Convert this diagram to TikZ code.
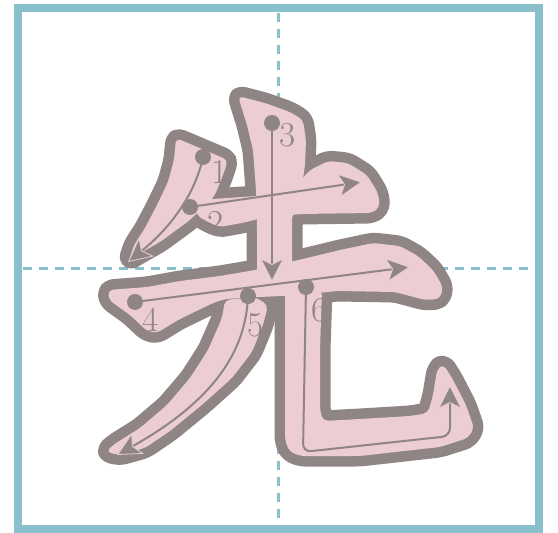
\documentclass[tikz,border=0pt]{standalone}
\usepackage{fontspec}
\usetikzlibrary{arrows.meta}
\definecolor{frameblue}{HTML}{89C0CC}
\definecolor{strokegray}{HTML}{8E8584}
\definecolor{glyphpink}{HTML}{ECCDD2}
\begin{document}
\begin{tikzpicture}[x=1pt,y=-1pt,
  frame/.style={draw=frameblue, line width=8pt},
  guide/.style={draw=frameblue, line width=3pt, dash pattern=on 9pt off 7pt},
  outl/.style={draw=strokegray, line width=21pt, line join=round, rounded corners=5pt},
  glyphfill/.style={fill=glyphpink, rounded corners=5pt},
  median/.style={draw=strokegray, line width=2pt,
    -{Stealth[length=24pt,width=24pt,inset=6pt,fill=strokegray,color=glyphpink,line width=0.8pt]}},
  dot/.style={circle, fill=strokegray, minimum size=16pt, inner sep=0pt},
  lab/.style={text=strokegray, font=\fontsize{35}{35}\selectfont, inner sep=0pt}]
\useasboundingbox (0,0) rectangle (558,533);
\fill[white] (0,0) rectangle (558,533);
% guides and frame
\draw[guide] (278.5,13) -- (278.5,525);
\draw[guide] (23,268) -- (535,268);
\draw[frame] (18,8) rectangle (539,529);
% glyph strokes
\def\glyphA{(176,138) -- (228,160) -- (222,178) -- (214,197) -- (205,205) -- (190,220) -- (160,242) -- (137,255) -- (129,260) -- (134,245) -- (145,228) -- (157,205) -- (168,182) -- (174,160) -- cycle}
\def\glyphB{(198,200) -- (257,196) -- (290,192) -- (310,170) -- (328,161) -- (348,163) -- (367,175) -- (378,193) -- (380,207) -- (372,213) -- (300,214) -- (257,219) -- (247,222) -- (220,227) -- (208,222) -- (196,215) -- cycle}
\def\glyphC{(238,96) -- (265,103) -- (290,112) -- (303,120) -- (306,140) -- (305,165) -- (300,200) -- (292,216) -- (292,275) -- (257,278) -- (257,225) -- (256,190) -- (253,150) -- (247,125) -- cycle}
\def\glyphD{(108,290) -- (147,287) -- (180,281) -- (220,276) -- (255,270) -- (307,258) -- (340,250) -- (373,243) -- (400,246) -- (418,256) -- (433,270) -- (443,287) -- (440,299) -- (425,300) -- (395,292) -- (337,291) -- (300,295) -- (260,297) -- (225,299) -- (213,303) -- (178,320) -- (157,333) -- (147,331) -- (130,315) -- (109,300) -- cycle}
\def\glyphE{(225,300) -- (222,318) -- (208,350) -- (190,378) -- (167,405) -- (140,428) -- (113,445) -- (106,452) -- (120,455) -- (145,448) -- (170,431) -- (203,404) -- (232,378) -- (252,352) -- (263,325) -- (268,305) -- (255,297) -- cycle}
\def\glyphF{(285,290) -- (285,440) -- (289,451) -- (300,456) -- (360,456) -- (440,447) -- (468,438) -- (474,428) -- (466,405) -- (452,378) -- (443,364) -- (437,370) -- (433,395) -- (428,413) -- (410,416) -- (360,419) -- (323,421) -- (320,410) -- (320,350) -- (322,290) -- cycle}
\path[outl] \glyphA; \path[outl] \glyphB; \path[outl] \glyphC;
\path[outl] \glyphD; \path[outl] \glyphE; \path[outl] \glyphF;
\path[glyphfill] \glyphA; \path[glyphfill] \glyphB; \path[glyphfill] \glyphC;
\path[glyphfill] \glyphD; \path[glyphfill] \glyphE; \path[glyphfill] \glyphF;
% stroke order dots
\node[dot] (d1) at (203,157) {};
\node[dot] (d2) at (190,207) {};
\node[dot] (d3) at (272,123) {};
\node[dot] (d4) at (135,302) {};
\node[dot] (d5) at (248,296) {};
\node[dot] (d6) at (306,287) {};
\coordinate (e1) at (128,262);
\coordinate (e2) at (362,182);
\coordinate (e3) at (272,282);
\coordinate (e4) at (410,267);
\coordinate (e5) at (117,455);
\coordinate (e6) at (450,385);
\draw[median] (d1.center) .. controls (195,195) and (170,228) .. (e1);
\draw[median] (d2.center) -- (e2);
\draw[median] (d3.center) -- (e3);
\draw[median] (d4.center) -- (e4);
\draw[median] (d5.center) .. controls (246,350) and (215,400) .. (e5);
\draw[median, rounded corners=8pt] (d6.center) -- (303,452) -- (450,436) -- (e6);
% labels
\node[lab] (l1) at (220,172) {1};
\node[lab] (l2) at (216,223) {2};
\node[lab] (l3) at (288,135) {3};
\node[lab] (l4) at (151,320) {4};
\node[lab] (l5) at (256,325) {5};
\node[lab] (l6) at (320,310) {6};
\end{tikzpicture}
\end{document}
